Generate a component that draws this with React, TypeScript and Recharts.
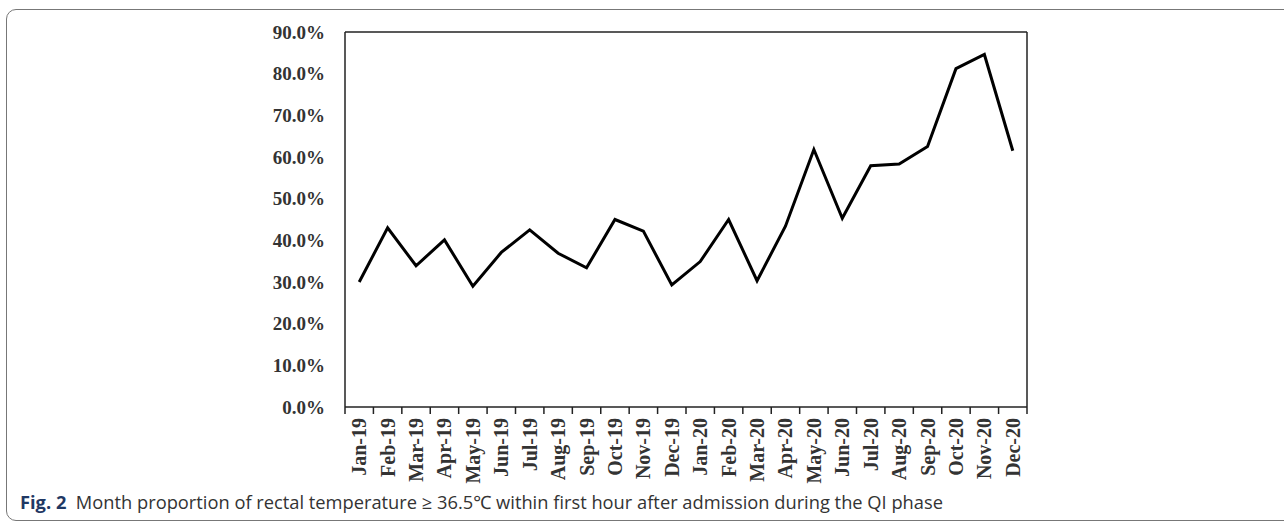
import React from 'react';
import { LineChart, Line, XAxis, YAxis } from 'recharts';

const months = [
  'Jan-19', 'Feb-19', 'Mar-19', 'Apr-19', 'May-19', 'Jun-19',
  'Jul-19', 'Aug-19', 'Sep-19', 'Oct-19', 'Nov-19', 'Dec-19',
  'Jan-20', 'Feb-20', 'Mar-20', 'Apr-20', 'May-20', 'Jun-20',
  'Jul-20', 'Aug-20', 'Sep-20', 'Oct-20', 'Nov-20', 'Dec-20',
];

const proportion = [
  30.0, 43.0, 33.9, 40.1, 29.0, 37.1,
  42.5, 36.9, 33.4, 45.0, 42.2, 29.3,
  34.9, 45.0, 30.3, 43.4, 61.8, 45.3,
  57.9, 58.3, 62.5, 81.2, 84.6, 61.5,
];

const yTicks = [0, 10, 20, 30, 40, 50, 60, 70, 80, 90];

const boundaries = months.map((_, i) => i).concat([months.length]);
const centers = months.map((_, i) => i + 0.5);

const data = months.map((m, i) => ({ pos: i + 0.5, month: m, value: proportion[i] }));

const serif = '"Liberation Serif", "Times New Roman", serif';

const MonthTick = (props: any) => {
  const { x, y, payload } = props;
  const label = months[Math.floor(payload.value)];
  return (
    <text
      x={x}
      y={y}
      transform={`rotate(-90, ${x}, ${y})`}
      textAnchor="end"
      dominantBaseline="central"
      fontFamily={serif}
      fontWeight="bold"
      fontSize={20}
      fill="#333"
    >
      {label}
    </text>
  );
};

const BoundaryTick = (props: any) => {
  const { x, y } = props;
  return <line x1={x} x2={x} y1={y - 7} y2={y} stroke="#222" strokeWidth={1.5} />;
};

export default function App() {
  return (
    <div
      style={{
        position: 'absolute',
        left: 0,
        top: 0,
        width: 1284,
        height: 525,
        overflow: 'hidden',
        background: '#fff',
      }}
    >
      <div
        style={{
          position: 'absolute',
          left: 6,
          top: 9,
          width: 1320,
          height: 512,
          border: '1.5px solid #777',
          borderRadius: 10,
          boxSizing: 'border-box',
        }}
      />
      <div style={{ position: 'absolute', left: 0, top: 0 }}>
        <LineChart
          width={1284}
          height={525}
          data={data}
          margin={{ top: 31, right: 256, left: 0, bottom: 0 }}
        >
          <XAxis
            xAxisId="grid"
            dataKey="pos"
            type="number"
            domain={[0, months.length]}
            ticks={boundaries}
            interval={0}
            tick={<BoundaryTick />}
            tickLine={false}
            tickSize={0}
            tickMargin={7}
            height={1}
            stroke="#222"
            strokeWidth={1.5}
            allowDataOverflow
          />
          <XAxis
            xAxisId="labels"
            dataKey="pos"
            type="number"
            domain={[0, months.length]}
            ticks={centers}
            tick={<MonthTick />}
            tickLine={false}
            axisLine={false}
            tickSize={0}
            tickMargin={10}
            height={117}
            interval={0}
            allowDataOverflow
          />
          <XAxis
            xAxisId="top"
            orientation="top"
            dataKey="pos"
            type="number"
            domain={[0, months.length]}
            tick={false}
            tickLine={false}
            height={1}
            stroke="#222"
            strokeWidth={1.5}
            allowDataOverflow
          />
          <YAxis
            yAxisId="left"
            domain={[0, 90]}
            ticks={yTicks}
            interval={0}
            width={345}
            tickLine={false}
            tickSize={0}
            tickMargin={20}
            tickFormatter={(v: number) => `${v.toFixed(1)}%`}
            tick={{ fontFamily: serif, fontWeight: 'bold', fontSize: 19, fill: '#333' }}
            stroke="#222"
            strokeWidth={1.5}
            allowDataOverflow
          />
          <YAxis
            yAxisId="right"
            orientation="right"
            domain={[0, 90]}
            width={1}
            tick={false}
            tickLine={false}
            stroke="#222"
            strokeWidth={1.5}
            allowDataOverflow
          />
          <Line
            xAxisId="grid"
            yAxisId="left"
            type="linear"
            dataKey="value"
            stroke="#000"
            strokeWidth={3}
            dot={false}
            activeDot={false}
            isAnimationActive={false}
          />
        </LineChart>
      </div>
      <div
        style={{
          position: 'absolute',
          left: 20,
          top: 491,
          fontFamily: '"Open Sans", "Noto Sans", sans-serif',
          fontSize: 18.3,
          lineHeight: '22px',
          color: '#333',
          whiteSpace: 'nowrap',
        }}
      >
        <span style={{ fontWeight: 'bold', color: '#1f3864' }}>Fig. 2</span>
        <span>{'\u00a0\u00a0'}Month proportion of rectal temperature ≥ 36.5℃ within first hour after admission during the QI phase</span>
      </div>
    </div>
  );
}
